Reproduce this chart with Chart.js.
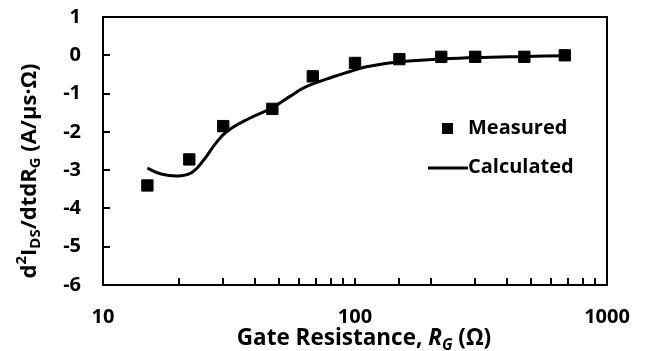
<!DOCTYPE html>
<html>
<head>
<meta charset="utf-8">
<script src="https://cdn.jsdelivr.net/npm/chart.js@4/dist/chart.umd.min.js"></script>
<style>
  html, body { margin: 0; padding: 0; background: #ffffff; }
  canvas { display: block; }
</style>
</head>
<body>
<canvas id="chart" width="657" height="351"></canvas>
<script>
// Gate resistance (ohm) and d2I/dtdR (A/us/ohm)
const measuredR = [15, 22, 30, 47, 68, 100, 150, 220, 300, 470, 680];
const measuredV = [-3.40, -2.72, -1.85, -1.40, -0.55, -0.20, -0.10, -0.04, -0.04, -0.04, 0.00];

const calculatedR = [15, 17, 20, 22.5, 25, 28, 31, 38, 47, 55, 64, 82, 95, 111, 150, 220, 300, 470, 680];
const calculatedV = [-2.95, -3.10, -3.15, -3.06, -2.75, -2.30, -1.99, -1.65, -1.37, -1.08, -0.82, -0.56, -0.43, -0.30, -0.17, -0.10, -0.06, -0.03, -0.01];

const seriesLabels = ['Measured', 'Calculated'];
const xLabeledTicks = [10, 100, 1000];
const yMin = -6, yMax = 1, yStep = 1;
const xMin = 10, xMax = 1000;

const FONT_FAMILY = '"Open Sans"';
const FONT_SIZE = 20;
const INK = '#000000';

// Rich text: segments with optional sub/superscript and italic
function drawRich(ctx, segs, size) {
  const fontFor = s => {
    const fs = (s.sub || s.sup) ? size * 0.68 : size;
    return (s.italic ? 'italic ' : '') + 'bold ' + fs + 'px ' + FONT_FAMILY;
  };
  const widths = segs.map(s => { ctx.font = fontFor(s); return ctx.measureText(s.t).width; });
  const total = widths.reduce((a, b) => a + b, 0);
  let x = -total / 2;
  segs.forEach((s, i) => {
    ctx.font = fontFor(s);
    const dy = s.sub ? size * 0.28 : (s.sup ? -size * 0.36 : 0);
    ctx.fillText(s.t, x, dy);
    x += widths[i];
  });
}

const frameAndTitles = {
  id: 'frameAndTitles',
  afterDraw(chart) {
    const { ctx, chartArea: a, scales } = chart;
    ctx.save();
    ctx.strokeStyle = INK;
    ctx.lineWidth = 2;

    // inward tick marks
    const tickLen = 7;
    ctx.beginPath();
    scales.x.ticks.forEach(t => {
      if (t.value <= xMin || t.value >= xMax) return;
      const px = Math.round(scales.x.getPixelForValue(t.value));
      ctx.moveTo(px, a.bottom);
      ctx.lineTo(px, a.bottom - tickLen);
    });
    scales.y.ticks.forEach(t => {
      if (t.value <= yMin || t.value >= yMax) return;
      const py = Math.round(scales.y.getPixelForValue(t.value));
      ctx.moveTo(a.left, py);
      ctx.lineTo(a.left + tickLen, py);
    });
    ctx.stroke();

    // plot frame
    ctx.strokeRect(a.left, a.top, a.right - a.left, a.bottom - a.top);

    // legend
    const m = chart.data.datasets[0];
    const c = chart.data.datasets[1];
    ctx.font = 'bold ' + FONT_SIZE + 'px ' + FONT_FAMILY;
    ctx.textBaseline = 'middle';
    ctx.textAlign = 'left';
    const lx = a.right - 139;
    const ly1 = a.top + 111, ly2 = a.top + 150;
    ctx.fillStyle = m.backgroundColor;
    ctx.fillRect(lx - 26, ly1 - 5, 11, 11);
    ctx.fillStyle = INK;
    ctx.fillText(m.label, lx, ly1);
    ctx.strokeStyle = c.borderColor;
    ctx.lineWidth = c.borderWidth;
    ctx.beginPath();
    ctx.moveTo(lx - 40, ly2 + 1);
    ctx.lineTo(lx, ly2 + 1);
    ctx.stroke();
    ctx.fillText(c.label, lx, ly2);

    // axis titles
    ctx.save();
    ctx.translate((a.left + a.right) / 2 + 9, a.bottom + 54);
    drawRich(ctx, [
      { t: 'Gate Resistance, ' },
      { t: 'R', italic: true },
      { t: 'G', italic: true, sub: true },
      { t: ' (\u03A9)' }
    ], 22.5);
    ctx.restore();

    ctx.save();
    ctx.translate(30, (a.top + a.bottom) / 2 + 20);
    ctx.rotate(-Math.PI / 2);
    drawRich(ctx, [
      { t: 'd' },
      { t: '2', sup: true },
      { t: 'I' },
      { t: 'DS', sub: true },
      { t: '/dtdR' },
      { t: 'G', sub: true },
      { t: ' (A/\u03BCs\u00B7\u03A9)' }
    ], 22);
    ctx.restore();

    ctx.restore();
  }
};

new Chart(document.getElementById('chart'), {
  type: 'scatter',
  data: {
    datasets: [
      {
        label: seriesLabels[0],
        data: measuredR.map((r, i) => ({ x: r, y: measuredV[i] })),
        showLine: false,
        pointStyle: 'rect',
        pointRadius: 8,
        pointBorderWidth: 1,
        backgroundColor: INK,
        borderColor: INK
      },
      {
        label: seriesLabels[1],
        data: calculatedR.map((r, i) => ({ x: r, y: calculatedV[i] })),
        showLine: true,
        pointRadius: 0,
        borderColor: INK,
        backgroundColor: INK,
        borderWidth: 3,
        tension: 0.4
      }
    ]
  },
  options: {
    responsive: false,
    animation: false,
    layout: { padding: { top: 17, right: 50, left: 0, bottom: 0 } },
    plugins: {
      legend: { display: false },
      tooltip: { enabled: false }
    },
    scales: {
      x: {
        type: 'logarithmic',
        min: xMin,
        max: xMax,
        afterFit(scale) { scale.height = 66; },
        grid: { display: false, drawTicks: true, tickLength: 18 },
        border: { display: false },
        ticks: {
          autoSkip: false,
          maxRotation: 0,
          padding: 2,
          color: INK,
          font: { family: FONT_FAMILY, weight: 'bold', size: FONT_SIZE },
          callback: (v) => xLabeledTicks.includes(v) ? String(v) : ''
        }
      },
      y: {
        min: yMin,
        max: yMax,
        afterFit(scale) { scale.width = 103; },
        grid: { display: false, drawTicks: true, tickLength: 20 },
        border: { display: false },
        ticks: {
          stepSize: yStep,
          padding: 2,
          color: INK,
          font: { family: FONT_FAMILY, weight: 'bold', size: FONT_SIZE }
        }
      }
    }
  },
  plugins: [frameAndTitles]
});
</script>
</body>
</html>
